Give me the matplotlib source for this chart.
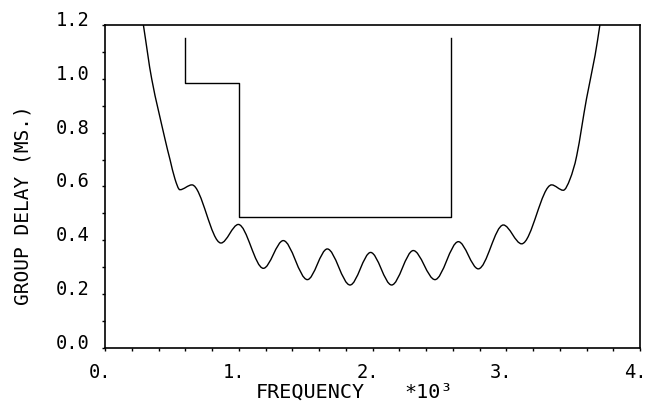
import numpy as np
import matplotlib
matplotlib.use("Agg")
import matplotlib.pyplot as plt
from matplotlib.path import Path
from matplotlib.patches import PathPatch
from matplotlib.transforms import ScaledTranslation

# group delay curve (freq in kHz, delay in ms):
# the steep skirts plus every ripple peak and trough
freq = [0.287, 0.349, 0.449, 0.486, 0.523, 0.56, 0.65, 0.867, 0.997,
        1.184, 1.333, 1.513, 1.662, 1.832, 1.986, 2.143, 2.305, 2.467, 2.642,
        2.791, 2.978, 3.115, 3.339, 3.426, 3.477, 3.527, 3.60, 3.664, 3.70]
delay = [1.2, 1.0, 0.775, 0.70, 0.628, 0.588, 0.606, 0.390, 0.459,
         0.296, 0.399, 0.254, 0.368, 0.234, 0.355, 0.234, 0.362, 0.254, 0.395,
         0.294, 0.457, 0.387, 0.606, 0.586, 0.628, 0.715, 0.926, 1.087, 1.2]

# delay template (mask)
mask_f = [0.6, 0.6, 1.0, 1.0, 2.59, 2.59]
mask_d = [1.15, 0.985, 0.985, 0.487, 0.487, 1.15]

xticks = [0, 1, 2, 3, 4]
xlabels = ["0.", "1.", "2.", "3.", "4."]
yticks = [0.0, 0.2, 0.4, 0.6, 0.8, 1.0, 1.2]
ylabels = ["0.0", "0.2", "0.4", "0.6", "0.8", "1.0", "1.2"]

plt.rcParams['font.family'] = ['DejaVu Sans Mono', 'DejaVu Sans']


def smooth_path(xs, ys):
    # cubic Hermite through the read points: flat at peaks/troughs,
    # central slope elsewhere; drawn as Bezier segments
    x = np.asarray(xs, float)
    y = np.asarray(ys, float)
    n = len(x)
    m = np.zeros(n)
    for i in range(n):
        if i == 0:
            m[i] = (y[1] - y[0]) / (x[1] - x[0])
        elif i == n - 1:
            m[i] = (y[-1] - y[-2]) / (x[-1] - x[-2])
        elif (y[i] - y[i - 1]) * (y[i + 1] - y[i]) < 0:
            m[i] = 0.0
        else:
            m[i] = (y[i + 1] - y[i - 1]) / (x[i + 1] - x[i - 1])
    verts = [(x[0], y[0])]
    codes = [Path.MOVETO]
    for i in range(n - 1):
        dx = x[i + 1] - x[i]
        verts += [(x[i] + dx / 3, y[i] + m[i] * dx / 3),
                  (x[i + 1] - dx / 3, y[i + 1] - m[i + 1] * dx / 3),
                  (x[i + 1], y[i + 1])]
        codes += [Path.CURVE4] * 3
    return Path(verts, codes)


fig = plt.figure(figsize=(6.47, 4.10), dpi=100)
ax = fig.add_axes([0.1623, 0.1488, 0.8269, 0.7878])

ax.add_patch(PathPatch(smooth_path(freq, delay), fill=False,
                       edgecolor="black", lw=1.0))
ax.plot(mask_f, mask_d, color="black", lw=1.0)

ax.set_xlim(0, 4)
ax.set_ylim(0, 1.2)
ax.set_xticks(xticks)
ax.set_xticklabels(xlabels, fontsize=13.5)
ax.set_yticks(yticks)
ax.set_yticklabels(ylabels, fontsize=13.5)
ax.set_xticks(np.arange(0, 4.01, 0.2), minor=True)
ax.set_yticks(np.arange(0, 1.21, 0.1), minor=True)
ax.tick_params(which="both", direction="out", length=2, width=1, color="black")
ax.tick_params(axis="x", pad=8)
ax.tick_params(axis="y", pad=9)
for lab in ax.get_yticklabels():
    lab.set_va("baseline")
shift = ScaledTranslation(-5 / 100, 0, fig.dpi_scale_trans)
for lab in ax.get_xticklabels():
    lab.set_transform(lab.get_transform() + shift)

for s in ax.spines.values():
    s.set_linewidth(1.2)
    s.set_color("black")

fig.text(0.035, 0.5, "GROUP DELAY (MS.)", rotation=90, fontsize=14,
         ha="center", va="center")
fig.text(0.479, 0.02, "FREQUENCY", fontsize=14.5, ha="center", va="bottom")
fig.text(0.625, 0.02, "*10³", fontsize=14.5, ha="left", va="bottom")

fig.savefig("out.png", dpi=100)
